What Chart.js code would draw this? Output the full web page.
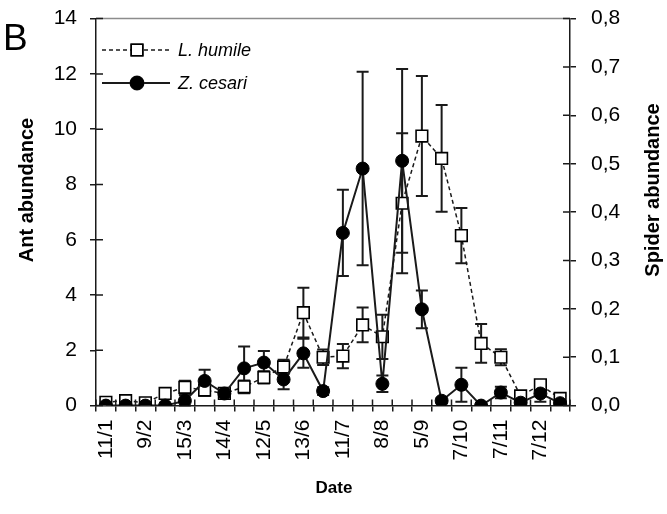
<!DOCTYPE html>
<html>
<head>
<meta charset="utf-8">
<script src="https://cdn.jsdelivr.net/npm/chart.js@4"></script>
<style>
  html, body { margin: 0; padding: 0; background: #fff; }
  #wrap { width: 667px; height: 514px; }
</style>
</head>
<body>
<div id="wrap"><canvas id="abundance" width="667" height="514"></canvas></div>
<script>
// sampling dates (only every other one is labelled on the axis)
const dates = ['11/1', '', '9/2', '', '15/3', '', '14/4', '', '12/5', '', '13/6', '',
               '11/7', '', '8/8', '', '5/9', '', '7/10', '', '7/11', '', '7/12', ''];

// ant abundance (left axis), mean and error
const humile    = [0.12, 0.18, 0.1, 0.44, 0.66, 0.56, 0.44, 0.68, 1.02, 1.4, 3.36, 1.75,
                   1.79, 2.92, 2.49, 7.32, 9.75, 8.94, 6.15, 2.25, 1.75, 0.35, 0.75, 0.26];
const humileErr = [0.05, 0.08, 0.05, 0.1, 0.24, 0.2, 0.1, 0.23, 0.22, 0.26, 0.9, 0.28,
                   0.44, 0.63, 0.8, 2.53, 2.17, 1.93, 1.0, 0.7, 0.29, 0.12, 0.17, 0.1];

// spider abundance (right axis), mean and error
const cesari    = [0, 0, 0, 0, 0.01, 0.051, 0.025, 0.077, 0.089, 0.054, 0.108, 0.03,
                   0.357, 0.49, 0.045, 0.506, 0.199, 0.01, 0.043, 0, 0.027, 0.006, 0.025, 0.005];
const cesariErr = [0, 0, 0, 0, 0.012, 0.023, 0.005, 0.045, 0.024, 0.02, 0.03, 0.008,
                   0.089, 0.2, 0.017, 0.19, 0.039, 0.005, 0.035, 0, 0.012, 0.003, 0.017, 0.003];

const antTicks = { min: 0, max: 14, step: 2 };
const spiderTicks = { min: 0, max: 0.8, step: 0.1 };

const FONT = 'Arial, "Liberation Sans", sans-serif';
Chart.defaults.font.family = FONT;
Chart.defaults.color = '#000';

const INK = '#1a1a1a';

// vertical error bars with caps, drawn under the markers
const errorBars = {
    id: 'errorBars',
    beforeDatasetsDraw(chart) {
        const ctx = chart.ctx;
        ctx.save();
        ctx.strokeStyle = INK;
        ctx.lineWidth = 2;
        chart.data.datasets.forEach((ds, di) => {
            const meta = chart.getDatasetMeta(di);
            const scale = chart.scales[ds.yAxisID];
            ds.errors.forEach((e, i) => {
                if (!e) return;
                const px = meta.data[i].x;
                const hi = scale.getPixelForValue(ds.data[i] + e);
                const lo = scale.getPixelForValue(Math.max(ds.data[i] - e, scale.min));
                ctx.beginPath();
                ctx.moveTo(px, hi); ctx.lineTo(px, lo);
                ctx.moveTo(px - 6, hi); ctx.lineTo(px + 6, hi);
                ctx.moveTo(px - 6, lo); ctx.lineTo(px + 6, lo);
                ctx.stroke();
            });
        });
        ctx.restore();
    }
};

function rotatedText(ctx, text, x, y, angle) {
    ctx.save();
    ctx.translate(x, y);
    ctx.rotate(angle);
    ctx.fillText(text, 0, 0);
    ctx.restore();
}

// frame details: top border, tick marks crossing into the plot, titles, legend and panel letter
const frame = {
    id: 'frame',
    afterDraw(chart) {
        const { ctx, chartArea: a, scales: { x, y, y1 } } = chart;
        ctx.save();

        ctx.strokeStyle = '#8c8c8c';
        ctx.lineWidth = 1.5;
        ctx.beginPath();
        ctx.moveTo(a.left, a.top); ctx.lineTo(a.right, a.top);
        ctx.stroke();

        ctx.strokeStyle = INK;
        ctx.beginPath();
        y.ticks.forEach((t, i) => {
            const py = y.getPixelForTick(i);
            ctx.moveTo(a.left, py); ctx.lineTo(a.left + 7, py);
        });
        y1.ticks.forEach((t, i) => {
            const py = y1.getPixelForTick(i);
            ctx.moveTo(a.right, py); ctx.lineTo(a.right - 7, py);
        });
        for (let i = 0; i <= dates.length; i++) {
            const px = x.getPixelForValue(i - 0.5);
            ctx.moveTo(px, a.bottom); ctx.lineTo(px, a.bottom - 6);
        }
        ctx.stroke();

        // axis titles
        ctx.fillStyle = '#000';
        ctx.textAlign = 'center';
        ctx.textBaseline = 'middle';
        ctx.font = 'bold 20px ' + FONT;
        rotatedText(ctx, 'Ant abundance', 27, 190, -Math.PI / 2);
        rotatedText(ctx, 'Spider abundance', 653, 190, -Math.PI / 2);
        ctx.font = 'bold 17px ' + FONT;
        ctx.fillText('Date', 334, 488);

        // legend
        const rows = [
            { ds: chart.data.datasets[1], y: 50 },
            { ds: chart.data.datasets[0], y: 83 }
        ];
        rows.forEach(r => {
            ctx.strokeStyle = INK;
            ctx.lineWidth = r.ds.borderWidth;
            ctx.setLineDash(r.ds.borderDash || []);
            ctx.beginPath();
            ctx.moveTo(102, r.y); ctx.lineTo(170, r.y);
            ctx.stroke();
            ctx.setLineDash([]);
            Chart.helpers.drawPoint(ctx, {
                pointStyle: r.ds.pointStyle,
                radius: r.ds.pointRadius,
                rotation: 0,
                borderWidth: r.ds.pointBorderWidth
            }, 137, r.y);
            ctx.fillStyle = r.ds.pointBackgroundColor;
            ctx.strokeStyle = r.ds.pointBorderColor;
            ctx.lineWidth = r.ds.pointBorderWidth;
            ctx.fill();
            ctx.stroke();
            ctx.fillStyle = '#000';
            ctx.font = 'italic 18px ' + FONT;
            ctx.textAlign = 'left';
            ctx.textBaseline = 'middle';
            ctx.fillText(r.ds.label, 178, r.y + 1);
        });

        ctx.font = '37px ' + FONT;
        ctx.textAlign = 'left';
        ctx.textBaseline = 'alphabetic';
        ctx.fillText('B', 3, 50);
        ctx.restore();
    }
};

const comma = v => v.toFixed(1).replace('.', ',');

// fixed scale boxes so the plot area sits at the same place whatever the label sizes
const pin = size => s => {
    if (s.isHorizontal()) s.height = size; else s.width = size;
    s.paddingTop = 0; s.paddingBottom = 0; s.paddingLeft = 0; s.paddingRight = 0;
};

new Chart(document.getElementById('abundance'), {
    type: 'line',
    data: {
        labels: dates,
        datasets: [
            {
                label: 'Z. cesari',
                data: cesari,
                errors: cesariErr,
                yAxisID: 'y1',
                order: 0,
                borderColor: INK,
                borderWidth: 2,
                pointStyle: 'circle',
                pointRadius: 6.5,
                pointBackgroundColor: '#000',
                pointBorderColor: '#000',
                pointBorderWidth: 1,
                tension: 0
            },
            {
                label: 'L. humile',
                data: humile,
                errors: humileErr,
                yAxisID: 'y',
                order: 1,
                borderColor: INK,
                borderWidth: 1.5,
                borderDash: [4, 3],
                pointStyle: 'rect',
                pointRadius: 8.2,
                pointBackgroundColor: '#fff',
                pointBorderColor: '#000',
                pointBorderWidth: 1.6,
                tension: 0
            }
        ]
    },
    options: {
        responsive: false,
        animation: false,
        devicePixelRatio: 1,
        layout: { padding: { top: 18.6, left: 0, right: 0, bottom: 0 } },
        plugins: {
            legend: { display: false },
            tooltip: { enabled: false }
        },
        scales: {
            x: {
                offset: true,
                grid: { offset: true, drawOnChartArea: false, tickLength: 6, color: INK, lineWidth: 1.5 },
                border: { color: INK, width: 1.5 },
                ticks: { autoSkip: false, maxRotation: 90, minRotation: 90, padding: 8, font: { size: 21 } },
                afterFit: pin(108.4)
            },
            y: {
                position: 'left',
                min: antTicks.min,
                max: antTicks.max,
                grid: { drawOnChartArea: false, tickLength: 6, color: INK, lineWidth: 1.5 },
                border: { color: INK, width: 1.5 },
                ticks: { stepSize: antTicks.step, padding: 13, font: { size: 21 } },
                afterFit: pin(96)
            },
            y1: {
                position: 'right',
                min: spiderTicks.min,
                max: spiderTicks.max,
                grid: { drawOnChartArea: false, tickLength: 6, color: INK, lineWidth: 1.5 },
                border: { color: INK, width: 1.5 },
                ticks: { stepSize: spiderTicks.step, padding: 15, font: { size: 21 }, callback: comma },
                afterFit: pin(97)
            }
        }
    },
    plugins: [errorBars, frame]
});
</script>
</body>
</html>
